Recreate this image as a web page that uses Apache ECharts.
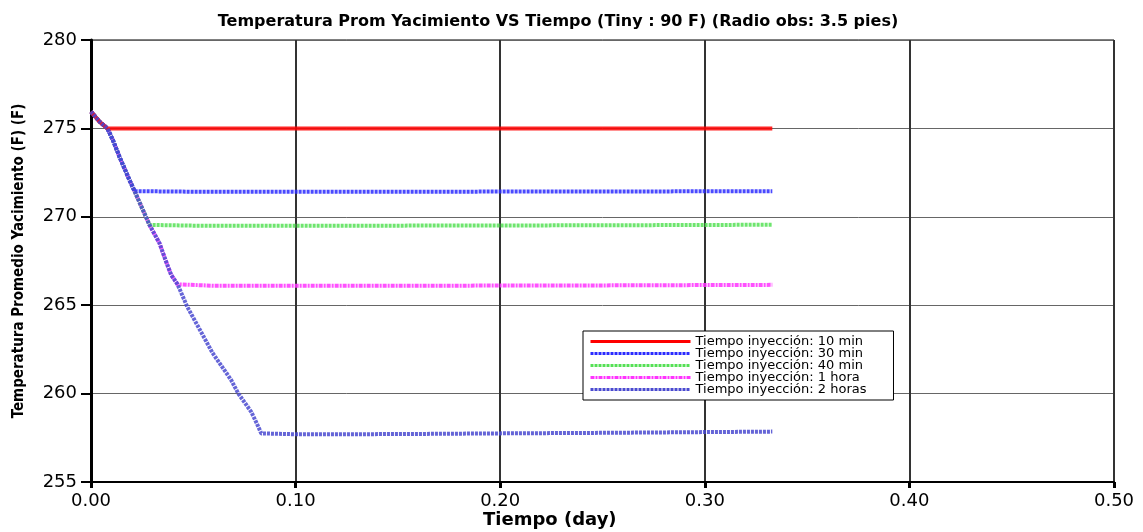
<!DOCTYPE html>
<html>
	<head>
		<meta charset="UTF-8">
		<title>Temperatura Prom Yacimiento VS Tiempo</title>
		<script type="text/javascript" src="https://cdn.jsdelivr.net/npm/echarts@6/dist/echarts.min.js"></script>
	</head>
	<body style="margin: 0;">
		<div id="chart" style="width: 1143px;height: 532px;"></div>

		<script>
			// curva comun de descenso (day, F)
			var tDescent = [0, 0.0042, 0.008, 0.0107, 0.0139, 0.0188, 0.0213, 0.0286, 0.0335, 0.0364, 0.0392, 0.0423, 0.047, 0.0594, 0.0685, 0.072, 0.0783, 0.081, 0.0832];
			var vDescent = [275.95, 275.38, 275.0, 274.34, 273.4, 272.08, 271.45, 269.54, 268.5, 267.56, 266.71, 266.18, 264.92, 262.3, 260.77, 260.0, 258.97, 258.32, 257.75];

			// tramo plano de cada serie: indice donde deja la curva, tiempos y valores
			var names = ["Tiempo inyección: 10 min", "Tiempo inyección: 30 min", "Tiempo inyección: 40 min", "Tiempo inyección: 1 hora", "Tiempo inyección: 2 horas"];
			var splitIdx = [2, 6, 7, 11, 18];
			var flatT = [
				[0.05, 0.15, 0.25, 0.333],
				[0.05, 0.15, 0.25, 0.333],
				[0.05, 0.15, 0.25, 0.333],
				[0.06, 0.15, 0.25, 0.333],
				[0.1, 0.15, 0.2, 0.25, 0.333]
			];
			var flatV = [
				[275.0, 275.0, 275.0, 275.0],
				[271.42, 271.42, 271.43, 271.45],
				[269.5, 269.5, 269.52, 269.55],
				[266.1, 266.1, 266.12, 266.15],
				[257.7, 257.71, 257.75, 257.78, 257.85]
			];

			var xTicks = [0, 0.1, 0.2, 0.3, 0.4, 0.5];
			var yTicks = [255, 260, 265, 270, 275, 280];

			var colors = ["#ff0000", "#2a2aff", "#55e055", "#ff33ff", "#4a4ad0"];
			var dashes = ["solid", [3, 1], [3, 1], [4, 1, 2, 1], [3, 1]];
			var zs = [5, 4, 3, 2, 6];

			function buildSeries() {
				var out = [];
				for (var i = 0; i < names.length; i++) {
					var pts = [];
					for (var k = 0; k <= splitIdx[i]; k++) {
						pts.push([tDescent[k], vDescent[k]]);
					}
					for (var j = 0; j < flatT[i].length; j++) {
						pts.push([flatT[i][j], flatV[i][j]]);
					}
					out.push({
						name: names[i],
						type: "line",
						data: pts,
						symbol: "none",
						z: zs[i],
						lineStyle: {color: colors[i], width: 4, type: dashes[i], opacity: 0.85},
						itemStyle: {color: colors[i]}
					});
				}
				return out;
			}

			var option = {
				animation: false,
				backgroundColor: "#fff",
				title: {
					text: "Temperatura Prom Yacimiento VS Tiempo (Tiny : 90 F) (Radio obs: 3.5 pies)",
					left: 553,
					top: 9,
					textAlign: "center",
					textStyle: {fontFamily: "DejaVu Sans", fontSize: 16, fontWeight: "bold", color: "#000"}
				},
				legend: {
					left: 583,
					top: 331,
					orient: "vertical",
					itemWidth: 100,
					itemHeight: 11,
					itemGap: -1,
					padding: [4, 27, 4, 6],
					borderColor: "#000",
					borderWidth: 1,
					backgroundColor: "#fff",
					itemStyle: {opacity: 0},
					lineStyle: {width: 3, opacity: 1},
					textStyle: {fontFamily: "DejaVu Sans", fontSize: 13, color: "#000"},
					data: names
				},
				grid: {left: 91, right: 29, top: 40, bottom: 50, show: true, borderColor: "#000", borderWidth: 1},
				xAxis: {
					type: "value",
					min: xTicks[0],
					max: xTicks[xTicks.length - 1],
					interval: 0.1,
					axisLine: {show: true, onZero: false, lineStyle: {color: "#000", width: 2}},
					axisTick: {show: true, length: 6, lineStyle: {color: "#000", width: 3}},
					axisLabel: {margin: 10, fontFamily: "DejaVu Sans", fontSize: 18, color: "#000", formatter: function(v) { return v.toFixed(2); }},
					splitLine: {show: true, lineStyle: {color: "#333", width: 2}}
				},
				yAxis: {
					type: "value",
					min: yTicks[0],
					max: yTicks[yTicks.length - 1],
					interval: 5,
					name: "Temperatura Promedio Yacimiento (F) (F)",
					nameLocation: "middle",
					nameGap: 64,
					nameRotate: 90,
					nameTextStyle: {fontFamily: "'DejaVu Sans Condensed', 'Liberation Sans Narrow', sans-serif", fontSize: 15, fontWeight: "bold", color: "#000"},
					axisLine: {show: true, lineStyle: {color: "#000", width: 3}},
					axisTick: {show: true, length: 10, lineStyle: {color: "#000", width: 2}},
					axisLabel: {margin: 14, fontFamily: "DejaVu Sans", fontSize: 18, color: "#000"},
					splitLine: {show: true, lineStyle: {color: "#666", width: 1}}
				},
				graphic: [{
					type: "text",
					left: 483,
					top: 511,
					style: {text: "Tiempo (day)", font: "bold 18px 'DejaVu Sans'", fill: "#000"}
				}],
				series: buildSeries()
			};

			var chart = echarts.init(document.getElementById("chart"));
			chart.setOption(option);
		</script>
	</body>
</html>
